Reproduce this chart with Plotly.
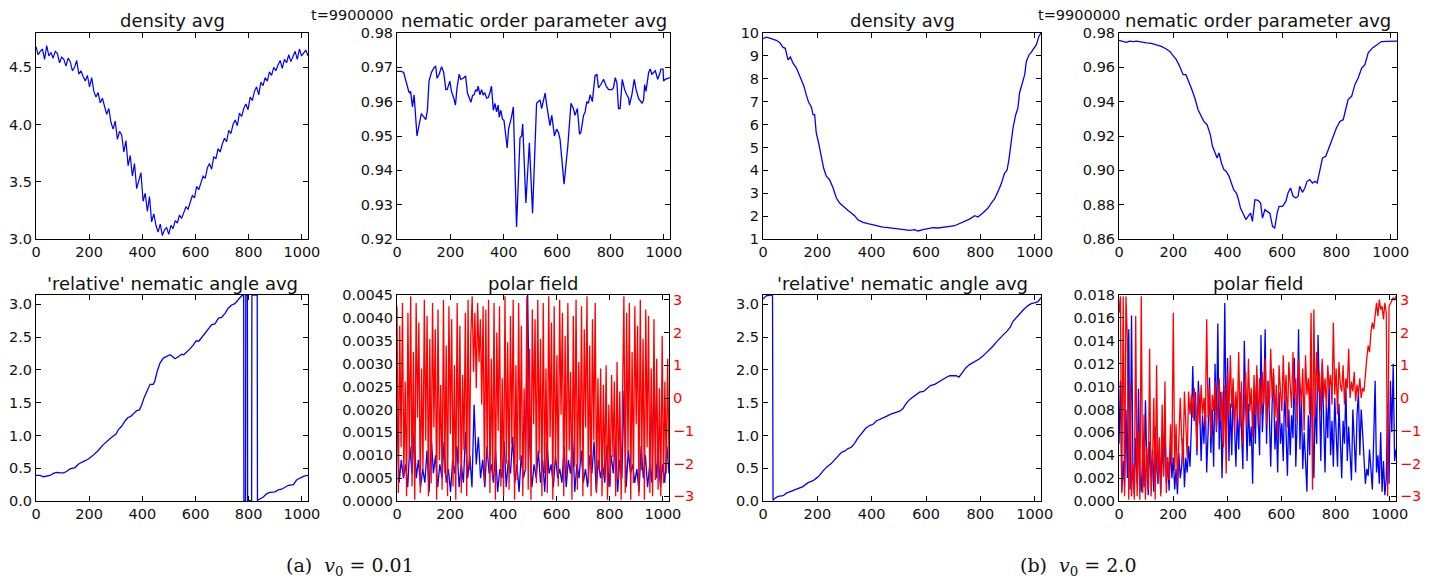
import numpy as np
import plotly.graph_objects as go

W, H = 1440, 584
PI = np.pi

# ---------------- data ----------------
# density avg, v0 = 0.01 (1024 sites, sampled)
density_a = [
    4.68, 4.61, 4.64, 4.66, 4.57, 4.69, 4.60, 4.63, 4.58, 4.64,
    4.62, 4.54, 4.59, 4.57, 4.51, 4.58, 4.55, 4.47, 4.50, 4.56,
    4.44, 4.47, 4.42, 4.38, 4.43, 4.33, 4.41, 4.29, 4.24, 4.28,
    4.19, 4.23, 4.16, 4.09, 4.14, 4.02, 3.96, 4.03, 3.87, 3.94,
    3.91, 3.76, 3.86, 3.64, 3.73, 3.55, 3.66, 3.44, 3.51, 3.58,
    3.33, 3.40, 3.24, 3.37, 3.15, 3.22, 3.12, 3.06, 3.13, 3.03,
    3.08, 3.10, 3.04, 3.12, 3.09, 3.16, 3.14, 3.21, 3.18, 3.24,
    3.28, 3.26, 3.33, 3.38, 3.36, 3.46, 3.43, 3.50, 3.55, 3.53,
    3.62, 3.66, 3.61, 3.72, 3.70, 3.79, 3.76, 3.83, 3.88, 3.85,
    3.95, 3.92, 4.00, 4.04, 3.99, 4.10, 4.07, 4.14, 4.18, 4.13,
    4.24, 4.21, 4.29, 4.33, 4.26, 4.37, 4.34, 4.41, 4.38, 4.46,
    4.43, 4.50, 4.47, 4.52, 4.56, 4.49, 4.57, 4.54, 4.61, 4.55,
    4.59, 4.64, 4.57, 4.66, 4.60, 4.63, 4.65, 4.60,
]

# nematic order parameter avg, v0 = 0.01 (site, value)
nematic_a = [
    (0, 0.9688), (16, 0.9688), (25, 0.9685), (33, 0.966), (39, 0.965),
    (44, 0.963), (48, 0.9625), (51, 0.963), (58, 0.9585), (64, 0.962),
    (75, 0.950), (85, 0.9545), (91, 0.9565), (98, 0.9558), (108, 0.9548),
    (114, 0.9575), (120, 0.966), (129, 0.9685), (139, 0.970), (145, 0.9703),
    (150, 0.9668), (158, 0.968), (167, 0.9702), (175, 0.9685), (183, 0.9635),
    (188, 0.9635), (198, 0.966), (204, 0.963), (213, 0.961), (219, 0.959),
    (225, 0.964), (233, 0.968), (239, 0.9665), (248, 0.9668), (257, 0.9675),
    (264, 0.9625), (273, 0.9605), (277, 0.9598), (283, 0.9618), (289, 0.962),
    (295, 0.9635), (300, 0.963), (304, 0.9645), (311, 0.962), (317, 0.9635),
    (323, 0.962), (329, 0.9625), (336, 0.961), (342, 0.9612), (348, 0.9625),
    (354, 0.9645), (361, 0.9575), (367, 0.9595), (373, 0.957), (379, 0.959),
    (383, 0.9555), (389, 0.9575), (395, 0.955), (401, 0.9545), (408, 0.9485),
    (413, 0.9465), (418, 0.952), (423, 0.9535), (429, 0.9555), (436, 0.9585),
    (448, 0.9235), (461, 0.9495), (467, 0.950), (471, 0.9535), (483, 0.9305),
    (496, 0.948), (508, 0.9275), (523, 0.9595), (536, 0.9605), (542, 0.958),
    (555, 0.9625), (561, 0.959), (573, 0.953), (580, 0.956), (590, 0.950),
    (598, 0.952), (605, 0.951), (611, 0.949), (626, 0.936), (640, 0.947),
    (648, 0.956), (652, 0.9595), (661, 0.958), (667, 0.956), (676, 0.958),
    (684, 0.9505), (689, 0.951), (699, 0.956), (705, 0.957), (711, 0.960),
    (717, 0.9595), (724, 0.962), (732, 0.960), (742, 0.9675), (749, 0.968),
    (755, 0.964), (764, 0.965), (774, 0.9665), (784, 0.9645), (793, 0.9635),
    (805, 0.9635), (811, 0.964), (818, 0.967), (824, 0.9655), (830, 0.958),
    (836, 0.958), (844, 0.9665), (853, 0.9635), (861, 0.962), (868, 0.961),
    (871, 0.959), (880, 0.962), (889, 0.9665), (896, 0.9635), (905, 0.961),
    (918, 0.9595), (924, 0.9605), (928, 0.965), (933, 0.963), (943, 0.9685),
    (949, 0.9695), (955, 0.968), (968, 0.969), (977, 0.9665), (984, 0.968),
    (989, 0.9695), (997, 0.9695), (999, 0.966), (1005, 0.9665), (1023, 0.967),
]

# 'relative' nematic angle avg, v0 = 0.01 (wraps between 0 and pi)
angle_a = [
    (0, 0.39), (15, 0.39), (28, 0.37), (40, 0.385), (53, 0.39), (65, 0.42),
    (78, 0.435), (90, 0.43), (103, 0.43), (115, 0.45), (128, 0.49), (147, 0.51),
    (159, 0.56), (172, 0.59), (184, 0.61), (197, 0.64), (216, 0.70), (234, 0.77),
    (253, 0.86), (266, 0.91), (278, 0.95), (291, 0.99), (301, 1.02), (310, 1.09),
    (322, 1.14), (335, 1.22), (345, 1.27), (356, 1.29), (368, 1.33), (379, 1.38),
    (389, 1.39), (397, 1.46), (407, 1.58), (419, 1.69), (429, 1.78), (441, 1.78),
    (447, 1.83), (456, 1.98), (466, 2.10), (479, 2.18), (491, 2.20), (504, 2.23),
    (514, 2.20), (523, 2.17), (535, 2.20), (548, 2.24), (556, 2.23), (567, 2.27),
    (579, 2.32), (592, 2.38), (602, 2.44), (613, 2.44), (623, 2.49), (636, 2.57),
    (648, 2.63), (661, 2.69), (673, 2.70), (686, 2.79), (698, 2.80), (711, 2.86),
    (723, 2.94), (736, 2.99), (748, 3.01), (761, 3.07), (773, 3.13), (781, 3.14),
    (782, 0.005), (788, 0.005), (789, 3.14), (795, 3.14), (796, 0.005), (811, 0.005),
    (812, 3.14), (832, 3.14), (833, 0.01), (842, 0.03), (855, 0.06), (867, 0.11),
    (880, 0.13), (899, 0.14), (911, 0.17), (924, 0.18), (936, 0.21), (949, 0.24),
    (968, 0.25), (980, 0.32), (993, 0.35), (1008, 0.38), (1023, 0.39),
]

# polar field magnitude (units of 1e-4) and angle, v0 = 0.01
polar_a_mag_e4 = [
    19, 4, 9, 5, 8, 3, 12, 6, 15, 5,
    9, 3, 7, 4, 11, 2, 14, 6, 10, 3,
    8, 5, 13, 4, 7, 2, 9, 6, 12, 3,
    8, 4, 15, 5, 10, 3, 21, 8, 14, 5,
    9, 3, 12, 6, 8, 4, 11, 2, 7, 5,
    13, 3, 9, 6, 14, 4, 8, 2, 10, 5,
    7, 45, 12, 3, 8, 5, 11, 4, 9, 2,
    13, 6, 8, 3, 10, 5, 7, 4, 12, 3,
    9, 6, 14, 2, 8, 5, 11, 4, 7, 3,
    10, 6, 13, 2, 9, 5, 8, 4, 12, 3,
    10, 6, 14, 2, 9, 5, 24, 3, 11, 6,
    8, 4, 7, 2, 12, 5, 10, 3, 8, 4,
    26, 5, 10, 3, 8, 4, 12, 6,
]
polar_a_ang = [
    2.8, -2.9, 2.2, -1.5, 2.9, -2.4, 0.5, -3.0, 2.6, -1.8,
    3.1, -2.7, 1.4, -3.1, 2.9, -0.6, 2.3, -2.9, 0.9, -2.2,
    3.0, -1.3, 2.5, -3.0, 1.8, -2.6, 2.9, -0.9, 2.1, -3.1,
    2.7, -1.9, 0.4, -2.8, 3.0, -2.3, 1.6, -3.0, 2.8, -1.1,
    2.4, -2.7, 1.0, -3.1, 2.9, -2.0, 2.2, -2.9, 0.7, -1.6,
    2.6, -3.0, 3.0, -2.2, 1.9,
    3.1, 0.8, 2.6, 0.3, 2.9, 1.1, 2.4, -0.2, 2.8, -2.6,
    2.7, -1.8, 3.0, -2.9, 1.2, -2.4, 2.9, -3.1, 2.0, -1.0,
    2.8, -2.7, 0.6, -3.0, 3.1, -2.0, 1.7, -2.8, 2.5, -1.4,
    3.0, -3.1, 1.0, -2.5, 2.9, -1.9, 2.2, -3.0, 0.3, -2.2,
    3.1, -2.8, 1.5, -3.1, 2.7, -0.8, 2.4, -2.6, 3.0, -1.7,
    1.8, -3.0, 2.9, -2.3, 0.9, -2.9, 3.1, -1.2, 2.3, -3.1,
    2.8, -2.0, 1.3, -2.7, 3.0, -0.5, 2.6, -3.0, 1.9, -2.4,
    2.9, -1.6, 0.8, -3.1, 2.5, -2.1, 3.0, -2.8, 1.1, -1.9,
    2.8, -3.0, 2.1, -0.9, 3.1, -2.6, 1.6, -3.0, 2.4, -1.3,
    2.9, -2.9, 0.6, -2.2,
    0.9, -3.0, 0.4, -2.4, 1.0, -3.1, -0.2, -2.7, 0.7, -1.8,
    0.5, -3.0, 1.1, -2.5, 0.2, -3.1, 0.8,
    3.1, -2.9, 2.6, -1.7, 2.9, -3.1, 1.4, -2.6, 2.8, -0.8,
    2.2, -3.0, 3.0, -2.2, 1.8, -3.1, 2.7, -1.5, 2.5, -2.9,
    0.9, -3.0, 2.4, -2.5, 1.2, -2.8, 0.3, -3.0, 1.9, -2.6,
    0.5, -2.3, 1.2, -1.9,
]

# density avg, v0 = 2.0
density_b = [
    (0, 9.75), (12, 9.82), (25, 9.78), (37, 9.74), (49, 9.68), (61, 9.59),
    (74, 9.37), (82, 9.33), (92, 8.83), (101, 8.95), (110, 8.69), (123, 8.47),
    (132, 8.22), (141, 7.89), (150, 7.70), (159, 7.31), (168, 6.97), (178, 6.77),
    (184, 6.43), (190, 6.43), (196, 5.63), (206, 5.12), (215, 4.50), (223, 4.10),
    (233, 3.74), (245, 3.59), (258, 3.23), (270, 2.79), (282, 2.57), (297, 2.40),
    (313, 2.25), (325, 2.14), (337, 2.02), (349, 1.84), (368, 1.73), (386, 1.67),
    (405, 1.61), (423, 1.55), (441, 1.52), (460, 1.50), (478, 1.47), (503, 1.44),
    (521, 1.41), (540, 1.38), (558, 1.41), (570, 1.35), (589, 1.41), (607, 1.44),
    (625, 1.50), (644, 1.48), (662, 1.52), (687, 1.55), (705, 1.58), (724, 1.67),
    (742, 1.77), (760, 1.87), (779, 2.02), (791, 1.96), (809, 2.14), (828, 2.35),
    (840, 2.57), (852, 2.75), (865, 3.08), (877, 3.42), (889, 3.88), (898, 4.00),
    (905, 4.47), (914, 5.34), (920, 5.85), (930, 6.43), (938, 6.72), (944, 7.38),
    (954, 7.82), (963, 8.18), (969, 8.76), (979, 9.05), (987, 9.15), (996, 9.34),
    (1006, 9.49), (1015, 9.85), (1023, 10.0),
]

# nematic order parameter avg, v0 = 2.0
nematic_b = [
    (0, 0.9757), (15, 0.9753), (27, 0.9746), (39, 0.9753), (52, 0.9750),
    (64, 0.9753), (82, 0.9746), (101, 0.9742), (119, 0.9740), (138, 0.9732),
    (156, 0.9722), (174, 0.9707), (187, 0.9693), (199, 0.9668), (211, 0.9645),
    (223, 0.9606), (236, 0.9557), (246, 0.9557), (254, 0.9528), (266, 0.9480),
    (279, 0.9421), (291, 0.9353), (300, 0.9324), (312, 0.9285), (324, 0.9266),
    (336, 0.9208), (344, 0.9140), (352, 0.9111), (361, 0.9072), (368, 0.9101),
    (377, 0.9043), (386, 0.9004), (395, 0.8994), (405, 0.8965), (414, 0.8917),
    (422, 0.8887), (432, 0.8868), (438, 0.8839), (447, 0.8781), (457, 0.8742),
    (467, 0.8713), (475, 0.8732), (484, 0.8751), (491, 0.8703), (500, 0.8829),
    (512, 0.8825), (521, 0.8810), (528, 0.8722), (537, 0.8771), (545, 0.8761),
    (555, 0.8751), (565, 0.8674), (573, 0.8664), (582, 0.8751), (589, 0.8790),
    (602, 0.8790), (614, 0.8819), (622, 0.8868), (631, 0.8897), (641, 0.8849),
    (651, 0.8839), (659, 0.8849), (665, 0.8907), (675, 0.8872), (684, 0.8897),
    (692, 0.8936), (702, 0.8946), (712, 0.8926), (721, 0.8936), (729, 0.8926),
    (739, 0.8994), (749, 0.9072), (761, 0.9082), (770, 0.9120), (778, 0.9159),
    (788, 0.9198), (800, 0.9247), (813, 0.9285), (825, 0.9295), (834, 0.9353),
    (843, 0.9412), (856, 0.9431), (868, 0.9499), (880, 0.9538), (893, 0.9596),
    (905, 0.9616), (917, 0.9684), (933, 0.9713), (948, 0.9732), (966, 0.9750),
    (985, 0.9751), (1003, 0.9750), (1023, 0.9753),
]

# 'relative' nematic angle avg, v0 = 2.0
angle_b = [
    (0, 3.08), (12, 3.13), (31, 3.14), (35, 3.14), (37, 0.01), (43, 0.04),
    (55, 0.07), (74, 0.08), (86, 0.12), (98, 0.14), (110, 0.16), (129, 0.18),
    (147, 0.22), (166, 0.28), (184, 0.31), (200, 0.36), (208, 0.39), (221, 0.46),
    (235, 0.52), (251, 0.57), (264, 0.63), (276, 0.70), (288, 0.74), (300, 0.76),
    (313, 0.80), (325, 0.82), (337, 0.88), (349, 0.96), (362, 1.03), (378, 1.11),
    (392, 1.15), (405, 1.17), (417, 1.22), (429, 1.24), (441, 1.27), (454, 1.29),
    (468, 1.32), (484, 1.34), (503, 1.37), (515, 1.41), (527, 1.49), (540, 1.55),
    (552, 1.59), (564, 1.62), (576, 1.66), (591, 1.67), (603, 1.72), (616, 1.76),
    (632, 1.78), (644, 1.81), (656, 1.85), (672, 1.88), (687, 1.91), (699, 1.91),
    (711, 1.91), (721, 1.89), (733, 1.95), (746, 2.03), (760, 2.08), (773, 2.11),
    (785, 2.15), (797, 2.17), (809, 2.21), (822, 2.26), (834, 2.30), (846, 2.36),
    (858, 2.42), (871, 2.47), (883, 2.53), (898, 2.59), (910, 2.65), (920, 2.74),
    (932, 2.80), (944, 2.86), (959, 2.92), (975, 2.98), (987, 3.01), (999, 3.02),
    (1012, 3.04), (1023, 3.10),
]

# polar field magnitude (units of 1e-3) and angle, v0 = 2.0
polar_b_mag_e3 = [
    5.0, 10.5, 0.8, 3.5, 1.2, 8.0, 2.0, 15.0, 1.0, 16.2,
    3.0, 0.6, 5.5, 1.5, 9.8, 2.5, 0.8, 4.0, 1.2, 8.8,
    3.2, 0.5, 5.2, 2.0, 4.5, 0.8, 6.5, 3.0, 1.5, 4.2,
    0.7, 5.5, 2.2, 6.6, 1.5, 3.5, 0.9, 5.0, 2.0,
    3.8, 1.0, 2.8, 0.6, 4.2, 2.0, 3.0, 5.5, 1.2, 3.8, 2.5, 4.8,
    3.0, 6.5, 11.8, 7.0, 9.5, 4.0, 10.5, 8.0,
    3.5, 7.5, 5.0, 9.0, 2.5, 6.0, 10.8, 4.2, 8.0, 3.0,
    12.0, 6.0, 15.5, 4.5, 9.5, 2.0, 7.0, 17.3, 5.0, 12.5, 3.5,
    8.5, 4.0, 10.0, 5.5, 3.0, 7.8, 4.5, 9.5, 6.0, 2.8,
    14.0, 7.5, 3.5, 8.5, 4.8, 6.5, 1.5, 9.0, 5.0, 11.0, 6.2,
    4.0, 14.5, 6.0, 9.0, 15.0, 5.0, 10.5, 7.5,
    3.0, 8.5, 11.0, 4.5, 7.0, 2.5, 9.5, 5.0, 6.8, 3.5,
    10.0, 6.0, 2.2, 8.0, 4.0, 7.5, 5.5, 12.5, 3.0, 7.0,
    15.0, 4.5, 9.0, 2.8, 6.0, 3.5, 0.8, 7.5,
    4.0, 11.0, 6.5, 2.0, 9.5, 5.0, 14.5, 7.0, 3.5, 12.0,
    6.0, 2.5, 8.5, 5.5, 10.5, 4.0, 7.0, 3.0, 9.0,
    6.0, 3.0, 8.5, 4.5, 2.0, 7.0, 5.0, 10.0, 3.5, 6.5,
    4.0, 1.8, 8.0, 5.0, 2.5, 7.5, 9.5, 4.0, 8.0,
    6.0, 3.5, 1.5, 2.8, 2.2, 4.5, 3.0, 1.0, 5.5, 10.5,
    2.5, 4.0, 1.5, 6.0, 0.8, 3.5, 0.5, 2.0, 8.5, 1.5,
    10.5, 6.0, 12.0, 3.5, 4.5,
]
polar_b_ang = [
    2.6, 3.1, -2.9, 3.1, -3.0, 3.1, 1.8,
    -3.1, 0.5, -3.0, -2.0, -3.1, 2.5, -3.0, -1.0, -3.1, 3.1,
    -2.9, -0.5, -3.1, -1.5, -2.8, 1.5, -3.0, -2.2, 0.0, -3.1,
    1.0, -2.6, -1.2, -3.0, -0.2, -2.4, 0.5, -2.9, -1.8, -2.5,
    -0.8, -2.0,
    2.6, -2.2, -0.8, -2.6, -1.5, 0.0, -1.2, -2.0, 0.2, -0.8,
    -1.8, 0.2, -0.5, 0.1, -0.6, 0.3,
    -0.2, -1.6, 0.2, -0.8, 0.4, -0.5, 0.0, -0.9, 2.4, -0.6,
    0.3, -1.2, 0.1, -0.4, 0.5, -1.0, -0.2, 0.6, -0.7, 0.2,
    -1.5, 0.4, -2.3, 0.8, -0.5, 1.3, -0.3, 0.6, -1.1, 0.2,
    -0.6, 1.4, -0.9, 0.5, -1.4, 0.0, 0.8, -0.8, 1.2, -0.4,
    0.3, -1.2, 0.7, -0.5, 1.0, -0.9, 0.6,
    -0.5, 0.8, -0.2, 1.2, -0.8, 0.5, -0.3, 1.5, 0.0, 0.9,
    -0.6, 0.4, -1.2, 1.0, 0.2, -0.4, 1.3, -0.1, 0.7, -0.9,
    1.1, 0.3, -0.3, 1.4, 0.0, 0.6, -0.7, 1.2, 0.4, -0.2,
    0.9, -1.0, 1.3, 0.1, 0.6, -0.5, 2.6, -2.8, 2.7, -0.6,
    1.4, 0.2, 0.8, -0.4, 1.2, 0.0, 0.6, -0.3, 1.0, 0.3,
    0.7, -0.2, 2.3, 0.1, 0.9, -0.5, 1.1, 0.4, 0.2, 1.0,
    -0.2, 0.6, 0.3, 1.5, 0.0, 0.5, 0.2, 0.8, -0.1, 0.4,
    0.1, 0.6, 0.0, 0.3,
    0.2, 0.8, 1.2, 1.6, 1.4, 2.0, 2.3, 2.1, 2.6, 2.9,
    2.5, 3.0, 2.7, 2.8, 2.4, 2.9, 2.6, -3.0, 2.8, 2.9,
    3.0, 3.05, 3.0, 3.1,
]

SITES = 1023
X_TICKS = [0, 200, 400, 600, 800, 1000]
FONT = "DejaVu Sans"
BLUE, RED = "#0000ff", "#ff0000"
TEXT = "#111111"


def sites(vals):
    return np.linspace(0, SITES, len(vals))


def unzip(pairs):
    xs, ys = zip(*pairs)
    return list(xs), list(ys)


# ---------------- figure ----------------
fig = go.Figure()


def dom_x(l, r):
    return [l / W, r / W]


def dom_y(t, b):
    return [1 - b / H, 1 - t / H]


axis_common = dict(
    showline=True, linecolor="#000000", linewidth=1,
    ticks="inside", ticklen=5, tickwidth=1, tickcolor="#000000",
    showgrid=False, zeroline=False, automargin=False,
    tickfont=dict(family=FONT, size=14.5, color=TEXT),
)

# panel boxes (left, right, top, bottom) in pixels
panels = {
    1: (36, 308, 33, 239),
    2: (397, 670, 33, 239),
    3: (36, 308, 295, 501),
    4: (397, 669, 295, 501),
    6: (763, 1041, 33, 239),
    7: (1119, 1397, 33, 239),
    8: (763, 1041, 295, 501),
    9: (1119, 1396, 295, 501),
}

yspecs = {
    1: dict(range=[3.0, 4.8], tickvals=[3.0, 3.5, 4.0, 4.5], tickformat=".1f"),
    2: dict(range=[0.92, 0.98], tickvals=[0.92, 0.93, 0.94, 0.95, 0.96, 0.97, 0.98], tickformat=".2f"),
    3: dict(range=[0, PI], tickvals=[0, 0.5, 1.0, 1.5, 2.0, 2.5, 3.0], tickformat=".1f"),
    4: dict(range=[0, 0.0045], tickvals=[i * 0.0005 for i in range(10)], tickformat=".4f"),
    6: dict(range=[1, 10], tickvals=list(range(1, 11)), tickformat="d"),
    7: dict(range=[0.86, 0.98], tickvals=[0.86, 0.88, 0.90, 0.92, 0.94, 0.96, 0.98], tickformat=".2f"),
    8: dict(range=[0, PI], tickvals=[0, 0.5, 1.0, 1.5, 2.0, 2.5, 3.0], tickformat=".1f"),
    9: dict(range=[0, 0.018], tickvals=[i * 0.002 for i in range(10)], tickformat=".3f"),
}

layout = {}
for k, (l, r, t, b) in panels.items():
    xa = "xaxis" if k == 1 else f"xaxis{k}"
    ya = "yaxis" if k == 1 else f"yaxis{k}"
    layout[xa] = dict(axis_common, domain=dom_x(l, r), anchor=f"y{k}" if k > 1 else "y",
                      range=[0, SITES], tickvals=X_TICKS, mirror="ticks")
    polar = k in (4, 9)
    layout[ya] = dict(axis_common, domain=dom_y(t, b), anchor=f"x{k}" if k > 1 else "x",
                      mirror=False if polar else "ticks", **yspecs[k])

# twin angle axes for the polar field panels
for host, twin in ((4, 5), (9, 10)):
    layout[f"yaxis{twin}"] = dict(
        axis_common, overlaying=f"y{host}", anchor=f"x{host}", side="right",
        range=[-PI, PI], tickvals=[-3, -2, -1, 0, 1, 2, 3],
        tickfont=dict(family=FONT, size=14.5, color=RED),
    )

fig.update_layout(**layout)


def line(x, y, xa, ya, color=BLUE, width=1.3):
    fig.add_trace(go.Scatter(x=x, y=y, mode="lines", xaxis=xa, yaxis=ya,
                             line=dict(color=color, width=width), showlegend=False,
                             hoverinfo="skip"))


# (a) v0 = 0.01
line(sites(density_a), density_a, "x", "y", width=1.2)
nx, ny = unzip(nematic_a)
line(nx, ny, "x2", "y2")
ax_, ay_ = unzip(angle_a)
line(ax_, ay_, "x3", "y3")
polar_a_mag = [v * 1e-4 for v in polar_a_mag_e4]
line(sites(polar_a_mag), polar_a_mag, "x4", "y4")
line(sites(polar_a_ang), polar_a_ang, "x4", "y5", color=RED)

# (b) v0 = 2.0
dx, dy = unzip(density_b)
line(dx, dy, "x6", "y6")
nx, ny = unzip(nematic_b)
line(nx, ny, "x7", "y7")
bx, by = unzip(angle_b)
line(bx, by, "x8", "y8")
polar_b_mag = [v * 1e-3 for v in polar_b_mag_e3]
line(sites(polar_b_mag), polar_b_mag, "x9", "y9")
line(sites(polar_b_ang), polar_b_ang, "x9", "y10", color=RED)

# ---------------- text ----------------
titles = {
    1: "density avg",
    2: "nematic order parameter avg",
    3: "'relative' nematic angle avg",
    4: "polar field",
    6: "density avg",
    7: "nematic order parameter avg",
    8: "'relative' nematic angle avg",
    9: "polar field",
}
annotations = []
for k, text in titles.items():
    l, r, t, b = panels[k]
    annotations.append(dict(
        text=text, x=(l + r) / 2 / W, y=1 - (t - 12) / H, xref="paper", yref="paper",
        xanchor="center", yanchor="middle", showarrow=False,
        font=dict(family=FONT, size=18, color=TEXT),
    ))

for cx in (352, 1079):
    annotations.append(dict(
        text="t=9900000", x=cx / W, y=1 - 15 / H, xref="paper", yref="paper",
        xanchor="center", yanchor="middle", showarrow=False,
        font=dict(family=FONT, size=14.5, color=TEXT),
    ))

captions = [("(a)", "0.01", 350), ("(b)", "2.0", 1078)]
for tag, v0, cx in captions:
    annotations.append(dict(
        text=f"{tag}  <i>v</i><sub>0</sub> = {v0}", x=cx / W, y=1 - 566 / H,
        xref="paper", yref="paper", xanchor="center", yanchor="middle",
        showarrow=False, font=dict(family="DejaVu Serif", size=19, color=TEXT),
    ))

fig.update_layout(
    width=W, height=H, margin=dict(l=0, r=0, t=0, b=0, autoexpand=False),
    paper_bgcolor="white", plot_bgcolor="white",
    annotations=annotations,
)

fig.write_html("out.html", config={"displayModeBar": False})
